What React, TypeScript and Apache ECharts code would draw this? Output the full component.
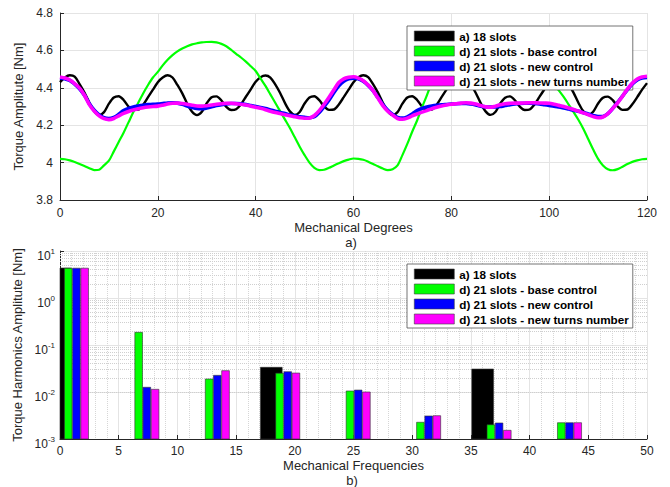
import React, { useEffect, useRef } from "react";
import * as echarts from "echarts";

// ---------- Top chart: torque vs mechanical degrees (1 sample per degree, 0..120) ----------
const DEG_STEP = 1;
const seriesNames = [
  "a) 18 slots",
  "d) 21 slots - base control",
  "d) 21 slots - new control",
  "d) 21 slots - new turns number",
];
const seriesColors = ["#000000", "#00ff00", "#0000ff", "#ff00ff"];

const torque18 = [
  4.43, 4.455, 4.467, 4.46, 4.42, 4.375, 4.32, 4.275, 4.254, 4.27, 4.315, 4.348, 4.355, 4.335, 4.3, 4.282, 4.283, 4.31, 4.35, 4.39,
  4.43, 4.455, 4.467, 4.455, 4.415, 4.37, 4.315, 4.272, 4.254, 4.272, 4.318, 4.35, 4.354, 4.332, 4.298, 4.281, 4.285, 4.312, 4.352, 4.392,
  4.432, 4.457, 4.466, 4.455, 4.418, 4.372, 4.318, 4.274, 4.255, 4.271, 4.316, 4.348, 4.355, 4.334, 4.3, 4.282, 4.284, 4.311, 4.35, 4.39,
  4.43, 4.456, 4.467, 4.457, 4.42, 4.374, 4.32, 4.275, 4.254, 4.27, 4.315, 4.348, 4.355, 4.335, 4.3, 4.281, 4.283, 4.31, 4.35, 4.39,
  4.43, 4.455, 4.466, 4.456, 4.418, 4.372, 4.318, 4.274, 4.255, 4.271, 4.316, 4.347, 4.354, 4.333, 4.299, 4.281, 4.284, 4.311, 4.351, 4.391,
  4.43, 4.455, 4.467, 4.456, 4.419, 4.373, 4.319, 4.274, 4.256, 4.272, 4.316, 4.347, 4.353, 4.334, 4.3, 4.282, 4.284, 4.312, 4.35, 4.39, 4.425,
];

const torqueBase = [
  4.02, 4.018, 4.012, 4.003, 3.993, 3.982, 3.97, 3.96, 3.962, 3.985, 4.01, 4.06, 4.11, 4.16, 4.215, 4.27, 4.32, 4.37, 4.415, 4.455,
  4.485, 4.52, 4.55, 4.575, 4.595, 4.61, 4.622, 4.632, 4.638, 4.643, 4.645, 4.646, 4.643, 4.635, 4.622, 4.603, 4.582, 4.562, 4.54, 4.515,
  4.49, 4.45, 4.41, 4.365, 4.32, 4.275, 4.23, 4.185, 4.135, 4.085, 4.04, 4.0, 3.972, 3.96, 3.962, 3.972, 3.985, 3.997, 4.008, 4.016,
  4.022, 4.02, 4.015, 4.005, 3.993, 3.98, 3.968, 3.96, 3.965, 3.985, 4.04, 4.1, 4.165, 4.225, 4.295, 4.36, 4.43, 4.5, 4.55, 4.58,
  4.6, 4.613, 4.624, 4.632, 4.638, 4.642, 4.645, 4.646, 4.646, 4.644, 4.64, 4.633, 4.622, 4.605, 4.585, 4.565, 4.543, 4.52, 4.497, 4.473,
  4.45, 4.42, 4.385, 4.35, 4.31, 4.27, 4.228, 4.18, 4.125, 4.07, 4.02, 3.985, 3.965, 3.959, 3.965, 3.978, 3.992, 4.004, 4.012, 4.018, 4.02,
];

const torqueNewCtrl = [
  4.452, 4.448, 4.44, 4.42, 4.395, 4.36, 4.315, 4.28, 4.255, 4.24, 4.236, 4.242, 4.258, 4.278, 4.29, 4.298, 4.303, 4.307, 4.31, 4.312,
  4.313, 4.316, 4.319, 4.32, 4.318, 4.312, 4.303, 4.295, 4.289, 4.288, 4.292, 4.298, 4.305, 4.31, 4.314, 4.316, 4.316, 4.314, 4.31, 4.305,
  4.3, 4.295, 4.289, 4.282, 4.275, 4.268, 4.262, 4.255, 4.25, 4.245, 4.242, 4.24, 4.245, 4.268, 4.3, 4.335, 4.375, 4.41, 4.435, 4.448,
  4.452, 4.448, 4.435, 4.413, 4.385, 4.348, 4.31, 4.28, 4.258, 4.242, 4.238, 4.245, 4.26, 4.278, 4.29, 4.297, 4.302, 4.306, 4.309, 4.311,
  4.313, 4.315, 4.316, 4.316, 4.313, 4.308, 4.302, 4.298, 4.297, 4.298, 4.3, 4.305, 4.31, 4.314, 4.316, 4.317, 4.317, 4.316, 4.314, 4.31,
  4.306, 4.302, 4.297, 4.292, 4.286, 4.28, 4.274, 4.267, 4.26, 4.252, 4.246, 4.247, 4.262, 4.29, 4.322, 4.356, 4.39, 4.42, 4.442, 4.452, 4.455,
];

const torqueNewTurns = [
  4.458, 4.452, 4.442, 4.422, 4.398, 4.36, 4.31, 4.275, 4.25, 4.235, 4.23, 4.236, 4.25, 4.263, 4.273, 4.281, 4.288, 4.293, 4.297, 4.3,
  4.302, 4.307, 4.313, 4.317, 4.318, 4.316, 4.312, 4.307, 4.303, 4.302, 4.304, 4.308, 4.312, 4.315, 4.317, 4.317, 4.315, 4.312, 4.308, 4.302,
  4.296, 4.29, 4.283, 4.275, 4.268, 4.262, 4.256, 4.25, 4.245, 4.24, 4.237, 4.238, 4.252, 4.278, 4.312, 4.35, 4.39, 4.428, 4.448, 4.456,
  4.459, 4.452, 4.438, 4.415, 4.385, 4.345, 4.305, 4.275, 4.254, 4.236, 4.232, 4.238, 4.25, 4.26, 4.27, 4.278, 4.288, 4.296, 4.303, 4.308,
  4.312, 4.315, 4.318, 4.32, 4.318, 4.313, 4.305, 4.298, 4.296, 4.302, 4.31, 4.315, 4.317, 4.318, 4.318, 4.319, 4.32, 4.32, 4.319, 4.318,
  4.317, 4.312, 4.306, 4.3, 4.292, 4.284, 4.275, 4.266, 4.256, 4.246, 4.24, 4.244, 4.262, 4.29, 4.32, 4.355, 4.393, 4.425, 4.447, 4.458, 4.462,
];

// ---------- Bottom chart: harmonic amplitudes (log scale) ----------
const harmonicFreqs = [0, 6, 12, 18, 24, 30, 36, 42];
const harm18 = [4.35, null, null, 0.0335, null, null, 0.0308, null];
const harmBase = [4.29, 0.186, 0.0189, 0.0251, 0.0105, 0.00227, 0.00201, 0.00222];
const harmNewCtrl = [4.31, 0.0126, 0.0226, 0.027, 0.011, 0.00309, 0.00219, 0.00222];
const harmNewTurns = [4.31, 0.0114, 0.0284, 0.0253, 0.01, 0.00313, 0.00153, 0.00222];
const harmMinorGrid = [
  0.002, 0.003, 0.004, 0.005, 0.006, 0.007, 0.008, 0.009,
  0.02, 0.03, 0.04, 0.05, 0.06, 0.07, 0.08, 0.09,
  0.2, 0.3, 0.4, 0.5, 0.6, 0.7, 0.8, 0.9,
  2, 3, 4, 5, 6, 7, 8, 9,
];

// bar layout (offset from harmonic frequency, width) in axis units
const barOffsets = [0, 0.7, 1.4, 2.1];
const barWidths = [1.85, 0.65, 0.65, 0.65];

const FONT = "'Liberation Sans', Arial, Helvetica, sans-serif";
const AXIS_COLOR = "#262626";
const GRID_COLOR = "#e4e4e4";

export default function App() {
  const ref = useRef<HTMLDivElement>(null);

  useEffect(() => {
    if (!ref.current) return;
    const chart = echarts.init(ref.current, null, { renderer: "svg" });

    const torqueSets = [torque18, torqueBase, torqueNewCtrl, torqueNewTurns];
    const lineWidths = [2.4, 2.2, 3.6, 3.6];
    const harmSets = [harm18, harmBase, harmNewCtrl, harmNewTurns];

    const lineSeries = torqueSets.map((arr, k) => ({
      type: "line",
      name: seriesNames[k],
      xAxisIndex: 0,
      yAxisIndex: 0,
      data: arr.map((v, i) => [i * DEG_STEP, v]),
      showSymbol: false,
      symbol: "none",
      smooth: 0.3,
      silent: true,
      z: 2 + k,
      itemStyle: { color: seriesColors[k] },
      lineStyle: { color: seriesColors[k], width: lineWidths[k] },
    }));

    const barSeries = harmSets.map((arr, k) => {
      const data: number[][] = [];
      arr.forEach((v, i) => {
        if (v !== null) data.push([harmonicFreqs[i] + barOffsets[k], v]);
      });
      const w = barWidths[k];
      const s: any = {
        type: "custom",
        name: seriesNames[k],
        xAxisIndex: 1,
        yAxisIndex: 1,
        data,
        encode: { x: 0, y: 1 },
        silent: true,
        z: 3 + k,
        itemStyle: { color: seriesColors[k] },
        renderItem: (params: any, api: any) => {
          const x = api.value(0);
          const v = api.value(1);
          const p1 = api.coord([x - w / 2, v]);
          const p2 = api.coord([x + w / 2, 0.001]);
          const cs = params.coordSys;
          const shape = echarts.graphic.clipRectByRect(
            { x: p1[0], y: p1[1], width: p2[0] - p1[0], height: p2[1] - p1[1] },
            { x: cs.x, y: cs.y, width: cs.width, height: cs.height }
          );
          if (!shape) return null;
          return {
            type: "rect",
            shape,
            style: { fill: seriesColors[k], stroke: "#303030", lineWidth: 0.6 },
          };
        },
      };
      if (k === 0) {
        s.markLine = {
          silent: true,
          z: 1,
          symbol: "none",
          label: { show: false },
          animation: false,
          lineStyle: { type: "dotted", color: "#cfcfcf", width: 1 },
          emphasis: { disabled: true },
          data: harmMinorGrid.map((v) => ({ yAxis: v })),
        };
      }
      return s;
    });

    const legendBase = {
      orient: "vertical",
      left: 407,
      padding: [4, 4, 3, 7],
      itemWidth: 40,
      itemHeight: 10,
      itemGap: 3,
      icon: "rect",
      selectedMode: false,
      backgroundColor: "#ffffff",
      borderColor: "#505050",
      borderWidth: 0.8,
      itemStyle: { borderColor: "#404040", borderWidth: 0.6 },
      textStyle: { fontSize: 11.7, fontWeight: "bold", color: "#000", fontFamily: FONT, lineHeight: 12 },
      data: seriesNames,
    };

    const tickLabel = { color: AXIS_COLOR, fontSize: 12, fontFamily: FONT };
    const nameStyle = { color: AXIS_COLOR, fontSize: 13, fontFamily: FONT };

    chart.setOption({
      animation: false,
      backgroundColor: "#ffffff",
      textStyle: { fontFamily: FONT },
      grid: [
        { left: 60, top: 13, width: 587, height: 187, containLabel: false, outerBoundsMode: "none" },
        { left: 60, top: 251, width: 587, height: 188, containLabel: false, outerBoundsMode: "none" },
      ],
      legend: [
        { ...legendBase, top: 26 },
        { ...legendBase, top: 264 },
      ],
      xAxis: [
        {
          type: "value",
          gridIndex: 0,
          min: 0,
          max: 120,
          interval: 20,
          name: "Mechanical Degrees",
          nameLocation: "middle",
          nameGap: 21,
          nameTextStyle: nameStyle,
          axisLine: { show: true, lineStyle: { color: AXIS_COLOR, width: 1 } },
          axisTick: { show: true, inside: true, length: 4, lineStyle: { color: AXIS_COLOR } },
          axisLabel: { ...tickLabel, margin: 7 },
          splitLine: { show: true, lineStyle: { color: GRID_COLOR, width: 1 } },
        },
        {
          type: "value",
          gridIndex: 1,
          min: 0,
          max: 50,
          interval: 5,
          name: "Mechanical Frequencies",
          nameLocation: "middle",
          nameGap: 20,
          nameTextStyle: nameStyle,
          axisLine: { show: true, lineStyle: { color: AXIS_COLOR, width: 1 } },
          axisTick: { show: true, inside: true, length: 4, lineStyle: { color: AXIS_COLOR } },
          axisLabel: { ...tickLabel, margin: 6 },
          splitLine: { show: true, lineStyle: { color: GRID_COLOR, width: 1 } },
          minorTick: { show: false, splitNumber: 5 },
          minorSplitLine: { show: true, lineStyle: { color: "#d6d6d6", type: "dotted", width: 1 } },
        },
      ],
      yAxis: [
        {
          type: "value",
          gridIndex: 0,
          min: 3.8,
          max: 4.8,
          interval: 0.2,
          name: "Torque Amplitute [Nm]",
          nameLocation: "middle",
          nameGap: 28,
          nameRotate: 90,
          nameTextStyle: nameStyle,
          axisLine: { show: true, lineStyle: { color: AXIS_COLOR, width: 1 } },
          axisTick: { show: true, inside: true, length: 4, lineStyle: { color: AXIS_COLOR } },
          axisLabel: { ...tickLabel, margin: 7 },
          splitLine: { show: true, lineStyle: { color: GRID_COLOR, width: 1 } },
        },
        {
          type: "log",
          logBase: 10,
          gridIndex: 1,
          min: 0.001,
          max: 10,
          name: "Torque Harmonics Amplitute [Nm]",
          nameLocation: "middle",
          nameGap: 34,
          nameRotate: 90,
          nameTextStyle: nameStyle,
          axisLine: { show: true, lineStyle: { color: AXIS_COLOR, width: 1 } },
          axisTick: { show: true, inside: true, length: 4, lineStyle: { color: AXIS_COLOR } },
          axisLabel: {
            ...tickLabel,
            margin: 5,
            formatter: (v: number) => {
              const e = Math.round(Math.log10(v));
              return "{b|10}{e|" + e + "}";
            },
            rich: {
              b: { fontSize: 12, lineHeight: 14, color: AXIS_COLOR, fontFamily: FONT, padding: [10, 0, 0, 0] },
              e: { fontSize: 8, lineHeight: 10, color: AXIS_COLOR, fontFamily: FONT, padding: [7, 0, 7, 0] },
            },
          },
          splitLine: { show: true, lineStyle: { color: GRID_COLOR, width: 1 } },
        },
      ],
      graphic: [
        {
          type: "text",
          x: 351,
          y: 242,
          silent: true,
          style: { text: "a)", align: "center", verticalAlign: "middle", fontSize: 13, fontFamily: FONT, fill: AXIS_COLOR },
        },
        {
          type: "text",
          x: 352,
          y: 480,
          silent: true,
          style: { text: "b)", align: "center", verticalAlign: "middle", fontSize: 13, fontFamily: FONT, fill: AXIS_COLOR },
        },
      ],
      series: [...lineSeries, ...barSeries],
    });

    return () => chart.dispose();
  }, []);

  return (
    <div
      ref={ref}
      style={{ position: "fixed", left: 0, top: 0, width: 670, height: 487, background: "#fff" }}
    />
  );
}
